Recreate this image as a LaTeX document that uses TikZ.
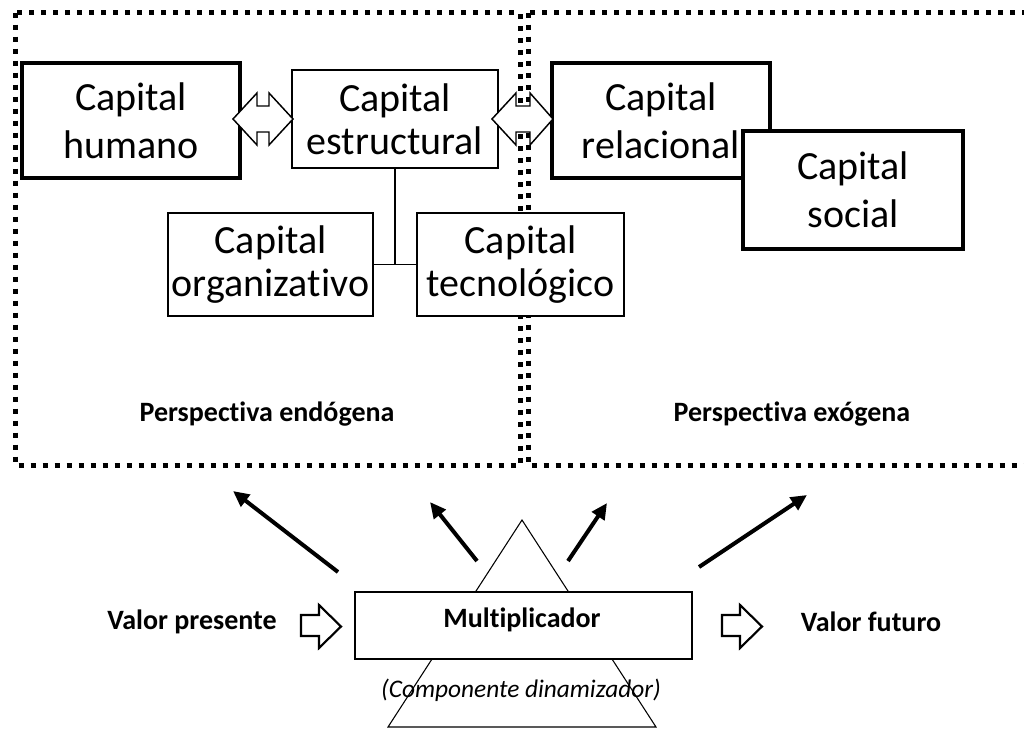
\documentclass[tikz,border=0pt]{standalone}
\usepackage{fontspec}
\setmainfont{Carlito}[Ligatures=NoCommon]
\usetikzlibrary{arrows.meta}
\begin{document}
\begin{tikzpicture}[x=0.75pt,y=-0.75pt,
  frame/.style={line width=3.75pt, dash pattern=on 3.75pt off 5.25pt},
  thinbox/.style={draw, line width=0.9pt, fill=white, align=center, inner sep=0pt,
    font=\fontsize{30}{32}\selectfont},
  thickbox/.style={thinbox, line width=2.3pt, font=\fontsize{30}{36}\selectfont},
  caption/.style={font=\bfseries\fontsize{21}{25}\selectfont, inner sep=0pt},
  ray/.style={line width=3pt, -{Triangle[length=12pt,width=11pt]}},
  blockarrow/.style={draw, line width=1.1pt, fill=white, line join=miter},
  hollowarrow/.style={draw, line width=1.6pt, fill=white, line join=miter}
]
\useasboundingbox (0,0) rectangle (1024,729);

% the two dotted perspective frames
\begin{scope}
  \clip (0,0) rectangle (1024,729);
  \draw[frame] (15,12.5) rectangle (520,465);
  \draw[frame] (528,12.5) rectangle (1045,465);
\end{scope}

% capital components
\node[thickbox, minimum width=218*0.75pt, minimum height=115*0.75pt] (hum) at (131,120.5) {Capital\\humano};
\node[thinbox, minimum width=206*0.75pt, minimum height=98*0.75pt] (est) at (395,119) {Capital\\estructural};
\node[thickbox, minimum width=218*0.75pt, minimum height=115*0.75pt] (rel) at (661,120.5) {Capital\\relacional};
\node[thickbox, minimum width=220*0.75pt, minimum height=118*0.75pt] (soc) at (853,190) {Capital\\social};
\node[thinbox, minimum width=205*0.75pt, minimum height=103*0.75pt] (org) at (270.5,264.5) {Capital\\organizativo};
\node[thinbox, minimum width=207*0.75pt, minimum height=103*0.75pt] (tec) at (520.5,264.5) {Capital\\tecnológico};

% tree joining the structural capital to its two parts
\draw[line width=0.9pt] (org.east) -- (tec.west);
\draw[line width=0.9pt] (est.south) -- (est.south |- org.east);

% double block arrows
\draw[blockarrow] (233,119) -- (257,93) -- (257,106) -- (269,106) -- (269,93) -- (293,119)
  -- (269,145) -- (269,132) -- (257,132) -- (257,145) -- cycle;
\draw[blockarrow] (492,119) -- (516,93) -- (516,106) -- (530,106) -- (530,93) -- (553,119)
  -- (530,145) -- (530,132) -- (516,132) -- (516,145) -- cycle;

% frame captions
\node[caption] (endo) at (267,414) {Perspectiva endógena};
\node[caption] (exo) at (792,414) {Perspectiva exógena};

% multiplier with its triangle
\draw[line width=0.8pt] (522,520) -- (656,727) -- (388,727) -- cycle;
\node[draw, line width=1.2pt, fill=white, minimum width=337*0.75pt, minimum height=67*0.75pt,
  inner sep=0pt] (mult) at (523.5,625.5) {};
\node[caption] (multtxt) at (522,620) {Multiplicador};
\node[font=\itshape\fontsize{19}{23}\selectfont, inner sep=0pt] (dyn) at (521,690) {(Componente dinamizador)};

\node[caption] (vp) at (192,622) {Valor presente};
\node[caption] (vf) at (871,622) {Valor futuro};

% hollow input/output arrows
\draw[hollowarrow] (301,615) -- (319,615) -- (319,605) -- (341,626.5) -- (319,648) -- (319,636) -- (301,636) -- cycle;
\draw[hollowarrow] (722,615) -- (740,615) -- (740,605) -- (762,626.5) -- (740,648) -- (740,636) -- (722,636) -- cycle;

% rays from the multiplier towards the frames
\coordinate (r1s) at (338,572); \coordinate (r1e) at (233,491);
\coordinate (r2s) at (477,561); \coordinate (r2e) at (430,502);
\coordinate (r3s) at (568,561); \coordinate (r3e) at (607,503);
\coordinate (r4s) at (699,567); \coordinate (r4e) at (807,495);
\draw[ray] (r1s) -- (r1e);
\draw[ray] (r2s) -- (r2e);
\draw[ray] (r3s) -- (r3e);
\draw[ray] (r4s) -- (r4e);
\end{tikzpicture}
\end{document}
